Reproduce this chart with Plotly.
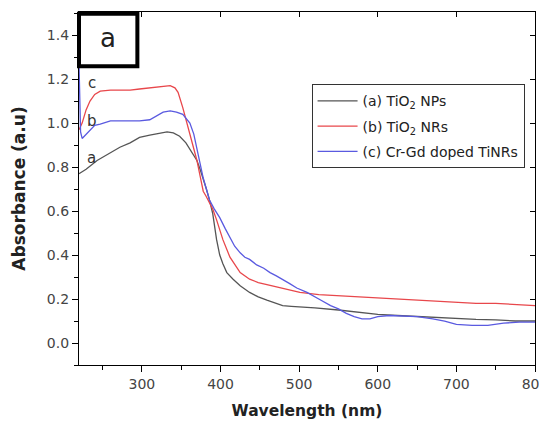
import plotly.graph_objects as go

# Data
wl_a = [220, 229, 243, 258, 272, 285, 297, 310, 322, 332, 340, 348, 356, 361, 366, 370, 374, 378, 382, 386, 390, 395, 399, 403, 408, 416, 425, 437, 448, 459, 470, 479, 490, 501, 520, 550, 575, 600, 625, 650, 675, 700, 725, 750, 775, 800]
abs_a = [0.77, 0.79, 0.83, 0.86, 0.89, 0.91, 0.935, 0.945, 0.955, 0.96, 0.955, 0.94, 0.91, 0.88, 0.855, 0.83, 0.79, 0.75, 0.70, 0.65, 0.59, 0.47, 0.40, 0.36, 0.32, 0.29, 0.26, 0.23, 0.21, 0.195, 0.18, 0.17, 0.167, 0.165, 0.16, 0.15, 0.14, 0.13, 0.125, 0.12, 0.115, 0.11, 0.107, 0.105, 0.10, 0.10]

wl_b = [220, 224, 229, 234, 240, 247, 260, 272, 285, 297, 310, 323, 332, 336, 342, 346, 352, 361, 366, 370, 374, 378, 382, 386, 390, 395, 403, 412, 425, 437, 448, 459, 470, 479, 490, 501, 525, 550, 575, 600, 625, 650, 675, 700, 725, 750, 775, 800]
abs_b = [0.97, 1.00, 1.06, 1.10, 1.13, 1.145, 1.15, 1.15, 1.15, 1.155, 1.16, 1.165, 1.17, 1.17, 1.16, 1.14, 1.07, 0.95, 0.89, 0.83, 0.76, 0.69, 0.665, 0.64, 0.61, 0.56, 0.47, 0.39, 0.32, 0.29, 0.275, 0.265, 0.255, 0.25, 0.24, 0.23, 0.22, 0.215, 0.21, 0.205, 0.20, 0.195, 0.19, 0.185, 0.18, 0.18, 0.175, 0.17]

wl_c = [220, 221, 222, 224, 229, 234, 240, 247, 260, 272, 285, 297, 310, 318, 327, 336, 344, 352, 357, 361, 366, 370, 374, 378, 382, 386, 392, 399, 406, 412, 418, 425, 431, 437, 446, 455, 463, 471, 479, 488, 497, 510, 525, 540, 550, 560, 570, 580, 590, 600, 615, 630, 650, 670, 685, 700, 720, 740, 760, 780, 800]
abs_c = [1.27, 1.10, 0.96, 0.93, 0.95, 0.97, 0.99, 0.995, 1.01, 1.01, 1.01, 1.01, 1.015, 1.03, 1.05, 1.055, 1.05, 1.04, 1.02, 1.00, 0.95, 0.88, 0.81, 0.75, 0.70, 0.65, 0.61, 0.57, 0.52, 0.48, 0.44, 0.41, 0.39, 0.38, 0.355, 0.34, 0.32, 0.305, 0.29, 0.27, 0.25, 0.23, 0.20, 0.17, 0.155, 0.135, 0.12, 0.11, 0.11, 0.12, 0.125, 0.122, 0.12, 0.11, 0.10, 0.085, 0.08, 0.08, 0.09, 0.095, 0.095]

names = ["(a) TiO<sub>2</sub> NPs", "(b) TiO<sub>2</sub> NRs", "(c) Cr-Gd doped TiNRs"]
colors = ["#555555", "#e8474b", "#5a5ae0"]
curve_labels = ["a", "b", "c"]
label_y = [0.84, 1.01, 1.18]

x_ticks = [300, 400, 500, 600, 700, 800]
y_ticks = [0.0, 0.2, 0.4, 0.6, 0.8, 1.0, 1.2, 1.4]
x_range = [220, 800]
y_range = [-0.1, 1.505]

FONT = "DejaVu Sans, Liberation Sans, sans-serif"

fig = go.Figure()
for i, (wl, ab, nm, col) in enumerate(zip([wl_a, wl_b, wl_c], [abs_a, abs_b, abs_c], names, colors)):
    fig.add_trace(go.Scatter(x=wl, y=ab, mode="lines", name=nm, legendgroup=f"g{i}",
                             line=dict(color=col, width=1.3)))

# invisible trace that carries the mirrored top/right axes (inside ticks)
fig.add_trace(go.Scatter(x=[x_range[0]], y=[y_range[0]], xaxis="x2", yaxis="y2",
                         mode="markers", marker=dict(opacity=0), showlegend=False,
                         hoverinfo="skip"))

axis_common = dict(showgrid=False, zeroline=False, showline=True, linecolor="black",
                   linewidth=1.3, ticks="outside", ticklen=6, tickwidth=1.3,
                   tickcolor="black", automargin=False,
                   tickfont=dict(family=FONT, size=14, color="#444444"))

# the page body adds an 8px offset, so the figure is margined to compensate
fig.update_layout(
    width=547, height=415,
    margin=dict(l=71, r=20, t=4, b=58),
    plot_bgcolor="white", paper_bgcolor="white",
    xaxis=dict(range=x_range, tickvals=x_ticks,
               minor=dict(dtick=50, ticks="outside", ticklen=4, tickcolor="black", tickwidth=1.2),
               title=dict(text="<b>Wavelength (nm)</b>", font=dict(family=FONT, size=15.5, color="#222222"), standoff=14),
               ticklabeloverflow="allow",
               **axis_common),
    yaxis=dict(range=y_range, tickvals=y_ticks, tickformat=".1f",
               minor=dict(dtick=0.1, ticks="outside", ticklen=4, tickcolor="black", tickwidth=1.2),
               title=dict(text="<b>Absorbance (a.u)</b>", font=dict(family=FONT, size=17, color="#222222"), standoff=16),
               **axis_common),
    xaxis2=dict(range=x_range, overlaying="x", side="top", anchor="y2", automargin=False,
                showgrid=False, zeroline=False, showline=True, linecolor="black", linewidth=1.3,
                ticks="inside", ticklen=5, tickcolor="black", tickvals=x_ticks, showticklabels=False),
    yaxis2=dict(range=y_range, overlaying="y", side="right", anchor="x2", automargin=False,
                showgrid=False, zeroline=False, showline=True, linecolor="black", linewidth=1.3,
                ticks="inside", ticklen=5, tickcolor="black", tickvals=y_ticks, showticklabels=False),
    legend=dict(x=0.51, y=0.795, xanchor="left", yanchor="top",
                bgcolor="white", bordercolor="#333333", borderwidth=1,
                font=dict(family=FONT, size=14, color="#222222"),
                itemwidth=40,
                traceorder="grouped", tracegroupgap=4),
    showlegend=True,
)

# boxed panel label
fig.add_shape(type="rect", xref="paper", yref="paper", x0=0.0, x1=0.128, y0=0.846, y1=0.995,
              line=dict(color="black", width=4), fillcolor="white")
fig.add_annotation(xref="paper", yref="paper", x=0.064, y=0.925, xanchor="center", yanchor="middle",
                   text="a", showarrow=False,
                   font=dict(family=FONT, size=26, color="#222222"))

for lab, ly in zip(curve_labels, label_y):
    fig.add_annotation(x=236, y=ly, text=lab, showarrow=False,
                       font=dict(family=FONT, size=15, color="#333333"))

fig.write_html("out.html")
